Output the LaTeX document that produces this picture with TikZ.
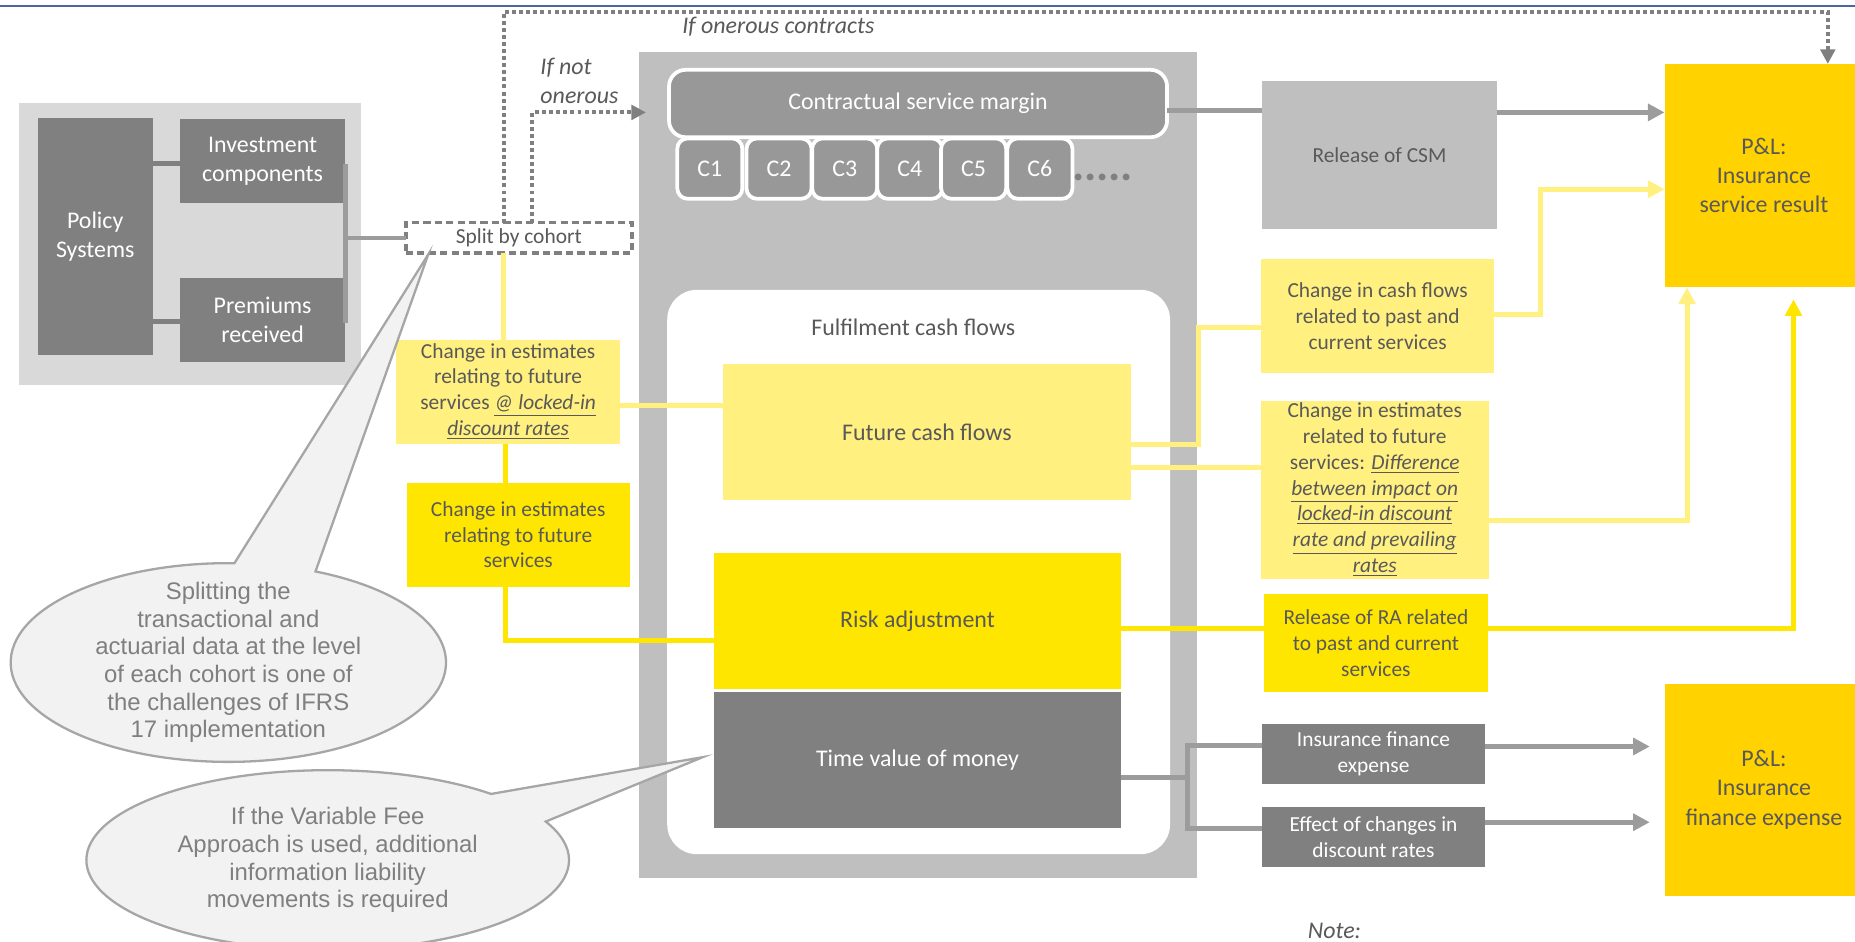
\documentclass[tikz,border=0pt]{standalone}
\usepackage{fontspec}
\setmainfont{Carlito}
\newfontfamily\bubblefont{Liberation Sans}
\usetikzlibrary{arrows.meta,shapes.callouts}

\definecolor{plgrey}{HTML}{D9D9D9}
\definecolor{pagrey}{HTML}{BFBFBF}
\definecolor{dkgrey}{HTML}{808080}
\definecolor{mdgrey}{HTML}{989898}
\definecolor{lngrey}{HTML}{9C9C9C}
\definecolor{txgrey}{HTML}{595959}
\definecolor{ltyel}{HTML}{FFF080}
\definecolor{yel}{HTML}{FFE600}
\definecolor{gold}{HTML}{FFD200}
\definecolor{bbfill}{HTML}{F2F2F2}
\definecolor{bbline}{HTML}{A6A6A6}
\definecolor{bbtext}{HTML}{7F7F7F}
\definecolor{topblue}{HTML}{4A67A1}

\newcommand{\bigtxt}{\fontsize{11.5}{14}\selectfont}
\newcommand{\smtxt}{\fontsize{10.3}{12.4}\selectfont}
\newcommand{\uit}[1]{\underline{\textit{#1}}}

\tikzset{
  boxsize/.style 2 args={minimum width=#1*0.02cm, minimum height=#2*0.02cm},
  flat/.style={inner sep=0pt, outer sep=0pt, align=center},
  dkbox/.style={flat, fill=dkgrey, text=white, font=\bigtxt},
  lybox/.style={flat, fill=ltyel, text=txgrey, font=\smtxt},
  ybox/.style={flat, fill=yel, text=txgrey, font=\smtxt},
  goldbox/.style={flat, fill=gold, text=txgrey, font=\bigtxt},
  cohort/.style={flat, fill=mdgrey, draw=white, line width=1.8pt, rounded corners=5pt,
    text=white, font=\bigtxt},
  bubble/.style={ellipse callout, flat, fill=bbfill, draw=bbline, line width=1.1pt,
    callout pointer arc=22},
  bubbletext/.style={align=center, text=bbtext, font=\bubblefont\fontsize{11.5}{13.3}\selectfont},
  dkline/.style={draw=dkgrey, line width=2.4pt},
  brline/.style={draw=lngrey, line width=2pt},
  gline/.style={draw=lngrey, line width=2.4pt},
  garrow/.style={gline, -{Triangle[width=8pt,length=8pt]}},
  lyline/.style={draw=ltyel, line width=2.4pt},
  lyarrow/.style={lyline, -{Triangle[width=8pt,length=8pt]}},
  yline/.style={draw=yel, line width=2.4pt},
  yarrow/.style={yline, -{Triangle[width=8pt,length=8pt]}},
  dotline/.style={draw=dkgrey, line width=1.9pt, dash pattern=on 1.9pt off 1.5pt,
    -{Triangle[width=7pt,length=7pt]}}
}

\begin{document}
\begin{tikzpicture}[x=0.02cm, y=-0.02cm]
    \useasboundingbox (0,0) rectangle (1568,796);
    \draw[topblue, line width=1pt] (0,5) -- (1568,5);

    \node[flat, fill=plgrey, boxsize={289}{238}] (PA) at (160.5,206) {};
    \node[dkbox, boxsize={97}{200}] (PS) at (80.5,200) {Policy\\Systems};
    \node[dkbox, boxsize={140}{71}] (IC) at (222,136.5) {Investment\\components};
    \node[dkbox, boxsize={140}{71}] (PR) at (222,270.5) {Premiums\\received};
    \node[flat, fill=white, draw=dkgrey, line width=1.7pt, dash pattern=on 3.5pt off 2pt,
      boxsize={191}{25.5}, text=txgrey, font=\smtxt] (SC) at (438.5,201) {Split by cohort};

    \node[flat, fill=pagrey, boxsize={472}{698}] (LRC) at (776,393) {};
    \foreach \i/\x in {1/600,2/658.5,3/714,4/769,5/823,6/879}
      \node[cohort, boxsize={55}{51}] (C\i) at (\x,142.5) {C\i};
    \node[cohort, boxsize={421}{57}, rounded corners=8pt] (CSM) at (776,87.5) {Contractual service margin};
    \node[text=dkgrey, inner sep=0pt, font=\fontsize{22}{22}\selectfont\bfseries] (DOTS) at (932,150) {.....};
    \coordinate (CSMin) at (546,95);

    \node[flat, fill=white, rounded corners=0.5cm, boxsize={425}{477}] (FCF) at (776.5,483.5) {};
    \node[text=txgrey, font=\bigtxt, inner sep=0pt] (FCFt) at (772,277) {Fulfilment cash flows};
    \node[lybox, boxsize={345}{115}, font=\bigtxt] (FUT) at (783.5,365) {Future cash flows};
    \node[ybox, boxsize={344}{115}, font=\bigtxt] (RA) at (775.5,525) {Risk adjustment};
    \node[dkbox, boxsize={344}{115}] (TVM) at (775.5,642.5) {Time value of money};

    \node[lybox, boxsize={189}{88}] (CE1) at (429.5,331)
      {Change in estimates\\relating to future\\services \uit{@ locked-in}\\\uit{discount rates}};
    \node[ybox, boxsize={188.5}{88}] (CE2) at (438,452) {Change in estimates\\relating to future\\services};

    \node[flat, fill=pagrey, boxsize={198.5}{125}, text=txgrey, font=\smtxt] (RC) at (1166,131) {Release of CSM};
    \node[lybox, boxsize={197}{96}] (CC) at (1164.5,267) {Change in cash flows\\related to past and\\current services};
    \node[lybox, boxsize={193}{150}] (CD) at (1162,414)
      {Change in estimates\\related to future\\services: \uit{Difference}\\\uit{between impact on}\\\uit{locked-in discount}\\\uit{rate and prevailing}\\\uit{rates}};
    \node[ybox, boxsize={190}{83}] (RR) at (1163,543.5) {Release of RA related\\to past and current\\services};
    \node[dkbox, font=\smtxt, boxsize={188}{51}] (IFE) at (1161,637.5) {Insurance finance\\expense};
    \node[dkbox, font=\smtxt, boxsize={188}{51}] (ECD) at (1161,707.5) {Effect of changes in\\discount rates};

    \node[goldbox, boxsize={168}{189}] (PL1) at (1491,148.5) {P\&L:\\Insurance\\service result};
    \node[goldbox, boxsize={168}{179}] (PL2) at (1491,667.5) {P\&L:\\Insurance\\finance expense};

    \node[anchor=west, inner sep=0pt, text=txgrey, font=\bigtxt\itshape] (ON) at (576.5,22.5) {If onerous contracts};
    \node[anchor=west, inner sep=0pt, align=left, text=txgrey, font=\bigtxt\itshape] (NO) at (456.5,68.5) {If not\\onerous};
    \node[inner sep=0pt, text=txgrey, font=\bigtxt\itshape] (NT) at (1128,787) {Note:};

    \draw[dkline] (PS.east |- 0,138) -- (IC.west |- 0,138);
    \draw[dkline] (PS.east |- 0,272) -- (PR.west |- 0,272);
    \draw[brline] (IC.east |- 0,139) -- (PR.east |- 0,273);
    \draw[brline] (PR.east |- 0,201) -- (SC.west);

    \draw[dotline] (SC.north -| 426,0) |- (1545,10) -- (PL1.north -| 1545,0);
    \draw[dotline] (SC.north -| 450,0) |- (CSMin);

    \draw[gline] (CSM.east |- 0,93) -- (RC.west |- 0,93);
    \draw[garrow] (RC.east |- 0,95) -- (PL1.west |- 0,95);

    \draw[lyline] (SC.south -| 426,0) -- (CE1.north -| 426,0);
    \draw[lyline] (CE1.east |- 0,343) -- (FUT.west |- 0,343);
    \draw[yline] (CE1.south -| 427,0) -- (CE2.north -| 427,0);
    \draw[yline] (CE2.south -| 427,0) |- (RA.west |- 0,541);

    \draw[lyline] (FUT.east |- 0,376) -- (1013,376) |- (CC.west |- 0,277);
    \draw[lyarrow] (CC.east |- 0,266) -- (1302,266) |- (PL1.west |- 0,160);
    \draw[lyline] (FUT.east |- 0,395) -- (CD.west |- 0,395);
    \draw[lyarrow] (CD.east |- 0,440) -| (PL1.south -| 1426,0);
    \draw[yline] (RA.east |- 0,531) -- (RR.west |- 0,531);
    \draw[yarrow, shorten >=0.2cm] (RR.east |- 0,531) -| (PL1.south -| 1516,0);

    \draw[gline] (TVM.east |- 0,657) -- (1004,657);
    \draw[gline] (IFE.west |- 0,630.5) -| (1004,700) -- (ECD.west |- 0,700);
    \draw[garrow, shorten >=0.25cm] (IFE.east |- 0,631) -- (PL2.west |- 0,631);
    \draw[garrow, shorten >=0.25cm] (ECD.east |- 0,695) -- (PL2.west |- 0,695);

    \node[bubble, boxsize={368}{168}, callout absolute pointer={(362,215)}] (B1) at (193,560) {};
    \node[bubbletext] (B1t) at (193,560) {Splitting the\\transactional and\\actuarial data at the level\\of each cohort is one of\\the challenges of IFRS\\17 implementation};
    \node[bubble, boxsize={408}{152}, callout absolute pointer={(594,640)}] (B2) at (277,727) {};
    \node[bubbletext] (B2t) at (277,727) {If the Variable Fee\\Approach is used, additional\\information liability\\movements is required};
\end{tikzpicture}
\end{document}
